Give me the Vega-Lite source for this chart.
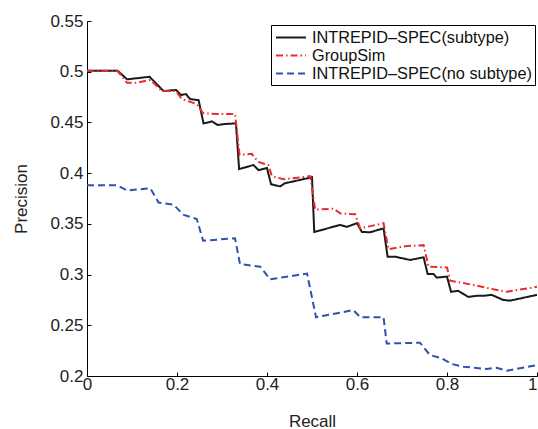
{
  "$schema": "https://vega.github.io/schema/vega-lite/v6.json",
  "width": 450,
  "height": 355,
  "autosize": {"type": "none"},
  "padding": {"left": 87, "top": 21, "right": 1, "bottom": 53},
  "background": "white",
  "config": {
    "font": "Liberation Sans",
    "view": {"stroke": null},
    "axis": {
      "domainColor": "#000000",
      "domainWidth": 1,
      "tickColor": "#000000",
      "tickSize": -4,
      "labelColor": "#222222",
      "labelFontSize": 17,
      "titleFontSize": 17,
      "titleFontWeight": "normal",
      "titleColor": "#222222",
      "grid": false
    },
    "legend": {
      "strokeColor": "#000000",
      "fillColor": "white",
      "padding": 3,
      "labelFontSize": 16.3,
      "labelColor": "#111111",
      "labelOffset": 11.5,
      "symbolOffset": 7.5,
      "symbolStrokeWidth": 2,
      "symbolType": "M-1.76,0H1.76",
      "symbolSize": 289,
      "rowPadding": 0,
      "labelLimit": 400
    }
  },
  "data": {
    "values": [
      {"series": "INTREPID–SPEC(subtype)", "recall": 0, "precision": 0.501},
      {"series": "INTREPID–SPEC(subtype)", "recall": 0.068, "precision": 0.501},
      {"series": "INTREPID–SPEC(subtype)", "recall": 0.089, "precision": 0.4925},
      {"series": "INTREPID–SPEC(subtype)", "recall": 0.139, "precision": 0.495},
      {"series": "INTREPID–SPEC(subtype)", "recall": 0.17, "precision": 0.481},
      {"series": "INTREPID–SPEC(subtype)", "recall": 0.198, "precision": 0.482},
      {"series": "INTREPID–SPEC(subtype)", "recall": 0.209, "precision": 0.477},
      {"series": "INTREPID–SPEC(subtype)", "recall": 0.22, "precision": 0.478},
      {"series": "INTREPID–SPEC(subtype)", "recall": 0.229, "precision": 0.473},
      {"series": "INTREPID–SPEC(subtype)", "recall": 0.248, "precision": 0.472},
      {"series": "INTREPID–SPEC(subtype)", "recall": 0.259, "precision": 0.449},
      {"series": "INTREPID–SPEC(subtype)", "recall": 0.278, "precision": 0.451},
      {"series": "INTREPID–SPEC(subtype)", "recall": 0.29, "precision": 0.4475},
      {"series": "INTREPID–SPEC(subtype)", "recall": 0.307, "precision": 0.4485},
      {"series": "INTREPID–SPEC(subtype)", "recall": 0.331, "precision": 0.449},
      {"series": "INTREPID–SPEC(subtype)", "recall": 0.338, "precision": 0.404},
      {"series": "INTREPID–SPEC(subtype)", "recall": 0.37, "precision": 0.408},
      {"series": "INTREPID–SPEC(subtype)", "recall": 0.381, "precision": 0.403},
      {"series": "INTREPID–SPEC(subtype)", "recall": 0.4, "precision": 0.405},
      {"series": "INTREPID–SPEC(subtype)", "recall": 0.409, "precision": 0.389},
      {"series": "INTREPID–SPEC(subtype)", "recall": 0.429, "precision": 0.387},
      {"series": "INTREPID–SPEC(subtype)", "recall": 0.44, "precision": 0.39},
      {"series": "INTREPID–SPEC(subtype)", "recall": 0.46, "precision": 0.392},
      {"series": "INTREPID–SPEC(subtype)", "recall": 0.48, "precision": 0.394},
      {"series": "INTREPID–SPEC(subtype)", "recall": 0.5, "precision": 0.396},
      {"series": "INTREPID–SPEC(subtype)", "recall": 0.505, "precision": 0.342},
      {"series": "INTREPID–SPEC(subtype)", "recall": 0.53, "precision": 0.345},
      {"series": "INTREPID–SPEC(subtype)", "recall": 0.5625, "precision": 0.349},
      {"series": "INTREPID–SPEC(subtype)", "recall": 0.577, "precision": 0.347},
      {"series": "INTREPID–SPEC(subtype)", "recall": 0.6, "precision": 0.3506},
      {"series": "INTREPID–SPEC(subtype)", "recall": 0.611, "precision": 0.342},
      {"series": "INTREPID–SPEC(subtype)", "recall": 0.629, "precision": 0.3417},
      {"series": "INTREPID–SPEC(subtype)", "recall": 0.659, "precision": 0.3456},
      {"series": "INTREPID–SPEC(subtype)", "recall": 0.668, "precision": 0.3176},
      {"series": "INTREPID–SPEC(subtype)", "recall": 0.685, "precision": 0.3176},
      {"series": "INTREPID–SPEC(subtype)", "recall": 0.718, "precision": 0.3144},
      {"series": "INTREPID–SPEC(subtype)", "recall": 0.748, "precision": 0.317},
      {"series": "INTREPID–SPEC(subtype)", "recall": 0.757, "precision": 0.3006},
      {"series": "INTREPID–SPEC(subtype)", "recall": 0.77, "precision": 0.3006},
      {"series": "INTREPID–SPEC(subtype)", "recall": 0.777, "precision": 0.297},
      {"series": "INTREPID–SPEC(subtype)", "recall": 0.8, "precision": 0.298},
      {"series": "INTREPID–SPEC(subtype)", "recall": 0.809, "precision": 0.283},
      {"series": "INTREPID–SPEC(subtype)", "recall": 0.825, "precision": 0.284},
      {"series": "INTREPID–SPEC(subtype)", "recall": 0.847, "precision": 0.278},
      {"series": "INTREPID–SPEC(subtype)", "recall": 0.866, "precision": 0.279},
      {"series": "INTREPID–SPEC(subtype)", "recall": 0.881, "precision": 0.279},
      {"series": "INTREPID–SPEC(subtype)", "recall": 0.899, "precision": 0.28},
      {"series": "INTREPID–SPEC(subtype)", "recall": 0.925, "precision": 0.275},
      {"series": "INTREPID–SPEC(subtype)", "recall": 0.94, "precision": 0.2743},
      {"series": "INTREPID–SPEC(subtype)", "recall": 1.0, "precision": 0.28},

      {"series": "GroupSim", "recall": 0, "precision": 0.501},
      {"series": "GroupSim", "recall": 0.067, "precision": 0.501},
      {"series": "GroupSim", "recall": 0.089, "precision": 0.489},
      {"series": "GroupSim", "recall": 0.109, "precision": 0.489},
      {"series": "GroupSim", "recall": 0.141, "precision": 0.492},
      {"series": "GroupSim", "recall": 0.166, "precision": 0.481},
      {"series": "GroupSim", "recall": 0.197, "precision": 0.481},
      {"series": "GroupSim", "recall": 0.211, "precision": 0.473},
      {"series": "GroupSim", "recall": 0.244, "precision": 0.468},
      {"series": "GroupSim", "recall": 0.258, "precision": 0.459},
      {"series": "GroupSim", "recall": 0.289, "precision": 0.4583},
      {"series": "GroupSim", "recall": 0.329, "precision": 0.4583},
      {"series": "GroupSim", "recall": 0.339, "precision": 0.418},
      {"series": "GroupSim", "recall": 0.366, "precision": 0.419},
      {"series": "GroupSim", "recall": 0.381, "precision": 0.411},
      {"series": "GroupSim", "recall": 0.403, "precision": 0.408},
      {"series": "GroupSim", "recall": 0.411, "precision": 0.397},
      {"series": "GroupSim", "recall": 0.437, "precision": 0.394},
      {"series": "GroupSim", "recall": 0.496, "precision": 0.397},
      {"series": "GroupSim", "recall": 0.507, "precision": 0.364},
      {"series": "GroupSim", "recall": 0.548, "precision": 0.365},
      {"series": "GroupSim", "recall": 0.5625, "precision": 0.3604},
      {"series": "GroupSim", "recall": 0.596, "precision": 0.3594},
      {"series": "GroupSim", "recall": 0.607, "precision": 0.3456},
      {"series": "GroupSim", "recall": 0.659, "precision": 0.3506},
      {"series": "GroupSim", "recall": 0.67, "precision": 0.325},
      {"series": "GroupSim", "recall": 0.707, "precision": 0.328},
      {"series": "GroupSim", "recall": 0.748, "precision": 0.329},
      {"series": "GroupSim", "recall": 0.759, "precision": 0.3078},
      {"series": "GroupSim", "recall": 0.8, "precision": 0.307},
      {"series": "GroupSim", "recall": 0.807, "precision": 0.294},
      {"series": "GroupSim", "recall": 0.859, "precision": 0.2897},
      {"series": "GroupSim", "recall": 0.903, "precision": 0.2855},
      {"series": "GroupSim", "recall": 0.933, "precision": 0.283},
      {"series": "GroupSim", "recall": 1.0, "precision": 0.288},

      {"series": "INTREPID–SPEC(no subtype)", "recall": 0, "precision": 0.388},
      {"series": "INTREPID–SPEC(no subtype)", "recall": 0.067, "precision": 0.388},
      {"series": "INTREPID–SPEC(no subtype)", "recall": 0.089, "precision": 0.383},
      {"series": "INTREPID–SPEC(no subtype)", "recall": 0.141, "precision": 0.385},
      {"series": "INTREPID–SPEC(no subtype)", "recall": 0.159, "precision": 0.371},
      {"series": "INTREPID–SPEC(no subtype)", "recall": 0.192, "precision": 0.369},
      {"series": "INTREPID–SPEC(no subtype)", "recall": 0.215, "precision": 0.3588},
      {"series": "INTREPID–SPEC(no subtype)", "recall": 0.244, "precision": 0.3548},
      {"series": "INTREPID–SPEC(no subtype)", "recall": 0.258, "precision": 0.3334},
      {"series": "INTREPID–SPEC(no subtype)", "recall": 0.329, "precision": 0.3358},
      {"series": "INTREPID–SPEC(no subtype)", "recall": 0.34, "precision": 0.3104},
      {"series": "INTREPID–SPEC(no subtype)", "recall": 0.385, "precision": 0.3078},
      {"series": "INTREPID–SPEC(no subtype)", "recall": 0.407, "precision": 0.2953},
      {"series": "INTREPID–SPEC(no subtype)", "recall": 0.489, "precision": 0.301},
      {"series": "INTREPID–SPEC(no subtype)", "recall": 0.509, "precision": 0.2579},
      {"series": "INTREPID–SPEC(no subtype)", "recall": 0.592, "precision": 0.265},
      {"series": "INTREPID–SPEC(no subtype)", "recall": 0.607, "precision": 0.2579},
      {"series": "INTREPID–SPEC(no subtype)", "recall": 0.659, "precision": 0.2579},
      {"series": "INTREPID–SPEC(no subtype)", "recall": 0.666, "precision": 0.232},
      {"series": "INTREPID–SPEC(no subtype)", "recall": 0.74, "precision": 0.2328},
      {"series": "INTREPID–SPEC(no subtype)", "recall": 0.762, "precision": 0.2207},
      {"series": "INTREPID–SPEC(no subtype)", "recall": 0.788, "precision": 0.2175},
      {"series": "INTREPID–SPEC(no subtype)", "recall": 0.811, "precision": 0.2118},
      {"series": "INTREPID–SPEC(no subtype)", "recall": 0.836, "precision": 0.2092},
      {"series": "INTREPID–SPEC(no subtype)", "recall": 0.888, "precision": 0.2069},
      {"series": "INTREPID–SPEC(no subtype)", "recall": 0.91, "precision": 0.2082},
      {"series": "INTREPID–SPEC(no subtype)", "recall": 0.933, "precision": 0.2052},
      {"series": "INTREPID–SPEC(no subtype)", "recall": 1.0, "precision": 0.2108}
    ]
  },
  "mark": {"type": "line", "strokeWidth": 2, "clip": true},
  "encoding": {
    "x": {
      "field": "recall",
      "type": "quantitative",
      "scale": {"domain": [0, 1], "nice": false, "zero": false},
      "axis": {"title": "Recall", "values": [0, 0.2, 0.4, 0.6, 0.8, 1], "format": "~g", "labelFlush": false, "labelAlign": {"expr": "datum.value == 1 ? 'right' : 'center'"}, "labelPadding": 4, "titlePadding": 21}
    },
    "y": {
      "field": "precision",
      "type": "quantitative",
      "scale": {"domain": [0.2, 0.55], "nice": false, "zero": false},
      "axis": {"title": "Precision", "values": [0.2, 0.25, 0.3, 0.35, 0.4, 0.45, 0.5, 0.55], "format": "~g", "labelPadding": 8, "titlePadding": 19}
    },
    "color": {
      "field": "series",
      "type": "nominal",
      "scale": {
        "domain": ["INTREPID–SPEC(subtype)", "GroupSim", "INTREPID–SPEC(no subtype)"],
        "range": ["#1a1a1a", "#ee2a2a", "#2f52b0"]
      },
      "legend": {"title": null, "orient": "none", "legendX": 184, "legendY": 4}
    },
    "strokeDash": {
      "field": "series",
      "type": "nominal",
      "scale": {
        "domain": ["INTREPID–SPEC(subtype)", "GroupSim", "INTREPID–SPEC(no subtype)"],
        "range": [[1, 0], [7, 3, 1.5, 3], [7, 4]]
      },
      "legend": {"title": null, "orient": "none", "legendX": 184, "legendY": 4}
    }
  }
}
